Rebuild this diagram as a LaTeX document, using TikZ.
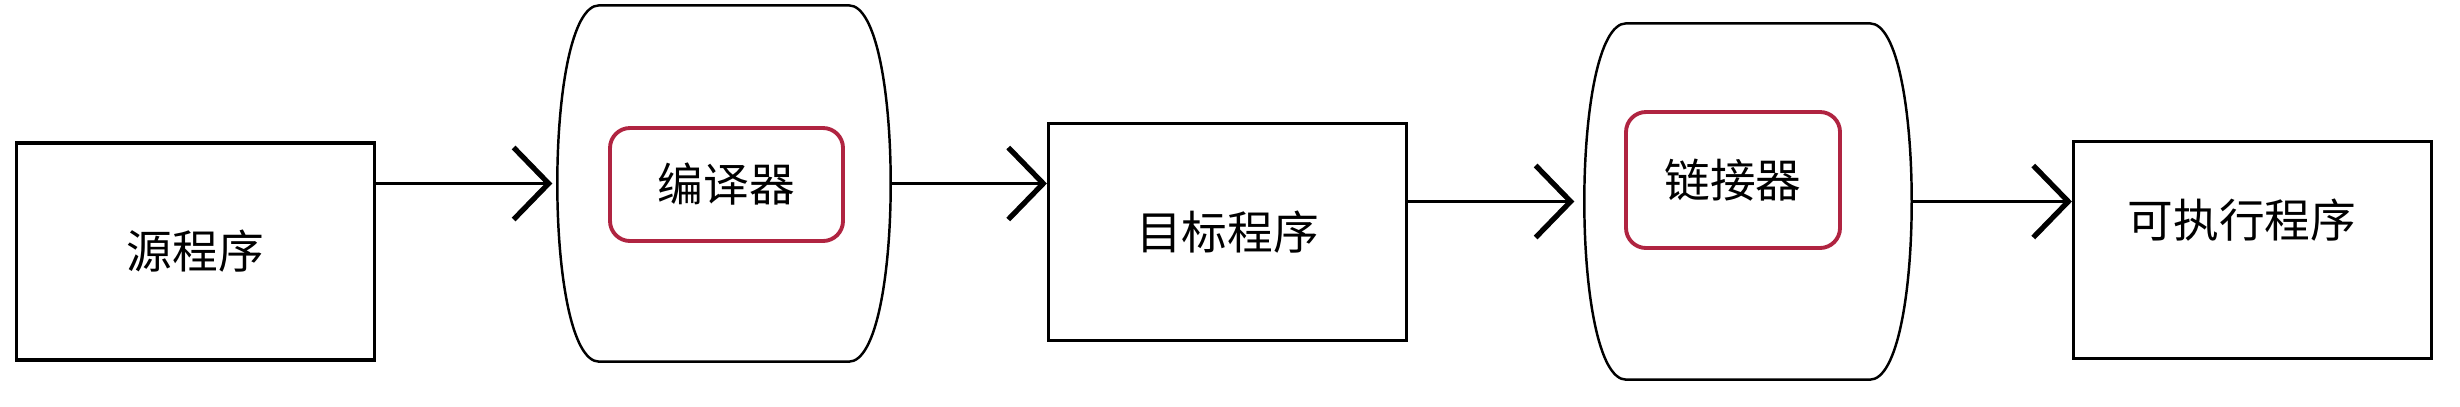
\documentclass[tikz,border=0pt]{standalone}
\usepackage{fontspec}
\usepackage{xcolor}
\usepackage{tikz}
\usetikzlibrary{arrows.meta}
\newfontfamily\cjk{Noto Sans CJK SC}
\definecolor{toolred}{HTML}{B02441}

\begin{document}
\begin{tikzpicture}[
  every node/.style={font=\cjk\fontsize{13}{15}\selectfont},
  box/.style={draw, line width=0.9pt, rectangle, minimum width=3.58cm, minimum height=2.17cm},
  barrelarea/.style={rectangle, minimum height=3.55cm, inner sep=0pt},
  toolbox/.style={draw=toolred, line width=1.1pt, rounded corners=2mm},
  flow/.style={line width=0.8pt, -{Straight Barb[length=3.5mm, width=7.2mm, line width=1.5pt]}}
]
 \useasboundingbox (0,0) rectangle (24.6,4.06);
%    boxes
 \node[box] (src) at (1.955,1.545) {源程序};
 \node[box] (obj) at (12.275,1.74) {目标程序};
 \node[box] (exe) at (22.525,1.56) {};
 \node (exetext) at (22.42,1.86) {可执行程序};
%    barrels
 \node[barrelarea, minimum width=3.32cm] (compiler) at (7.24,2.225) {};
 \node[barrelarea, minimum width=3.26cm] (linker) at (17.48,2.045) {};
 \foreach \b in {compiler,linker}
   \draw[line width=0.7pt]
     ([xshift=4.2mm]\b.north west) -- ([xshift=-4.2mm]\b.north east)
     .. controls ([xshift=1.4mm]\b.north east) and ([xshift=1.4mm]\b.south east) ..
     ([xshift=-4.2mm]\b.south east) -- ([xshift=4.2mm]\b.south west)
     .. controls ([xshift=-1.4mm]\b.south west) and ([xshift=-1.4mm]\b.north west) ..
     cycle;
%    tools inside the barrels
 \node[toolbox, minimum width=2.33cm, minimum height=1.13cm] (comptool) at (7.265,2.215) {编译器};
 \node[toolbox, minimum width=2.14cm, minimum height=1.36cm] (linktool) at (17.33,2.26) {链接器};
%    arrows
 \draw[flow] (compiler.west -| src.east) -- ([xshift=-0.5mm]compiler.west);
 \draw[flow] (compiler.east) -- (compiler.east -| obj.west);
 \draw[flow] (linker.west -| obj.east) -- ([xshift=-1mm]linker.west);
 \draw[flow] (linker.east) -- (linker.east -| exe.west);
\end{tikzpicture}
\end{document}
